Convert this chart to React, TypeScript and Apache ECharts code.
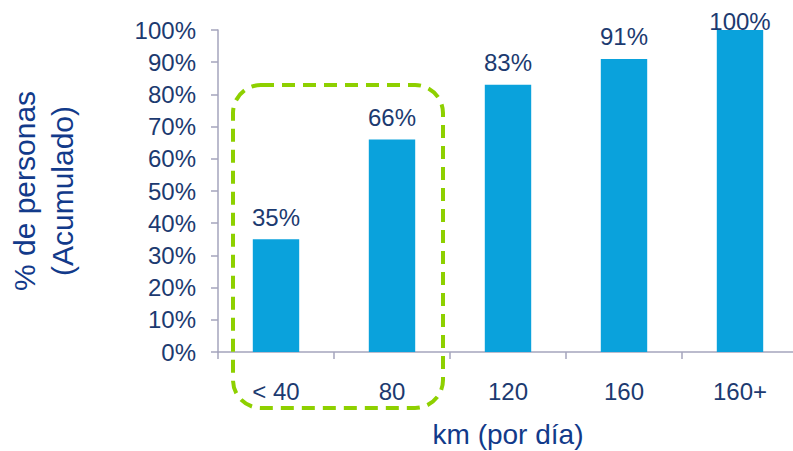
import React, { useEffect, useRef } from "react";
import * as echarts from "echarts";

const categories = ["< 40", "80", "120", "160", "160+"];
const values = [35, 66, 83, 91, 100];
const yTicks = [0, 10, 20, 30, 40, 50, 60, 70, 80, 90, 100];

const LABEL_COLOR = "#1c3a70";
const TITLE_COLOR = "#123a8a";
const AXIS_COLOR = "#a4a4bc";
const BAR_COLOR = "#0aa2dc";
const FONT = "Liberation Sans, Arial, sans-serif";

export default function App() {
  const ref = useRef<HTMLDivElement>(null);
  useEffect(() => {
    if (!ref.current) return;
    const chart = echarts.init(ref.current, null, { renderer: "svg" });
    chart.setOption({
      animation: false,
      backgroundColor: "#ffffff",
      grid: { left: 218, top: 30, width: 580, bottom: 99, containLabel: false, outerBoundsMode: "none" },
      xAxis: {
        type: "category",
        data: categories,
        name: "km (por día)",
        nameLocation: "middle",
        nameGap: 68,
        nameTextStyle: { color: TITLE_COLOR, fontSize: 28, fontFamily: FONT },
        axisLine: { lineStyle: { color: AXIS_COLOR, width: 1.5 } },
        axisTick: { show: true, length: 7, lineStyle: { color: AXIS_COLOR, width: 1.5 } },
        axisLabel: { color: LABEL_COLOR, fontSize: 24, fontFamily: FONT, margin: 27 },
      },
      yAxis: {
        type: "value",
        min: yTicks[0],
        max: yTicks[yTicks.length - 1],
        interval: 10,
        name: "% de personas\n(Acumulado)",
        nameLocation: "middle",
        nameRotate: 90,
        nameGap: 137,
        nameTextStyle: { color: TITLE_COLOR, fontSize: 30, fontFamily: FONT, lineHeight: 38 },
        splitLine: { show: false },
        axisLine: { show: true, lineStyle: { color: AXIS_COLOR, width: 1.5 } },
        axisTick: { show: true, length: 7, lineStyle: { color: AXIS_COLOR, width: 1.5 } },
        axisLabel: {
          color: LABEL_COLOR,
          fontSize: 24,
          fontFamily: FONT,
          margin: 22,
          formatter: (v: number) => v + "%",
        },
      },
      series: [
        {
          type: "bar",
          barWidth: "40%",
          itemStyle: { color: BAR_COLOR },
          data: values.map((v) =>
            v === 100 ? { value: v, label: { distance: -3 } } : { value: v }
          ),
          label: {
            show: true,
            position: "top",
            distance: 10,
            color: LABEL_COLOR,
            fontSize: 24,
            fontFamily: FONT,
            formatter: (p: any) => p.value + "%",
          },
        },
      ],
      graphic: [
        {
          type: "rect",
          shape: { x: 233, y: 85, width: 210, height: 323, r: 28 },
          style: {
            fill: "none",
            stroke: "#8ed000",
            lineWidth: 4,
            lineDash: [13, 8],
          },
          z: 10,
        },
      ],
    });
    return () => chart.dispose();
  }, []);
  return <div ref={ref} style={{ width: 793, height: 451, position: "absolute", left: 0, top: 0 }} />;
}
